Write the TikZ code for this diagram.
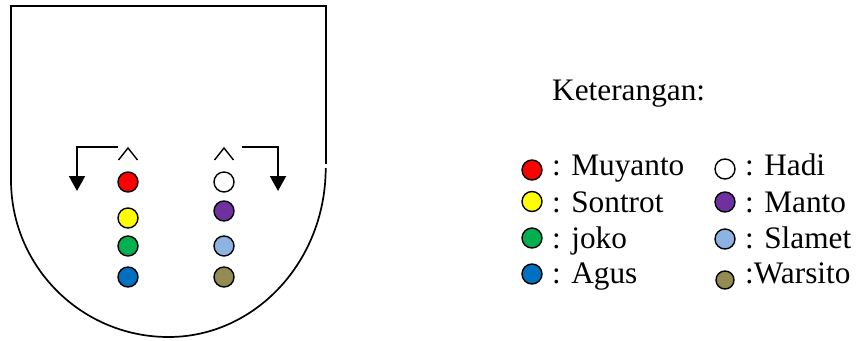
\documentclass[tikz,border=0pt]{standalone}
\usepackage{fontspec}
\setmainfont{Liberation Serif}
\usetikzlibrary{arrows.meta}
\definecolor{cRed}{HTML}{FF0000}
\definecolor{cYellow}{HTML}{FFFF00}
\definecolor{cGreen}{HTML}{00B050}
\definecolor{cBlue}{HTML}{0070C0}
\definecolor{cPurple}{HTML}{7030A0}
\definecolor{cLight}{HTML}{8DB3E2}
\definecolor{cOlive}{HTML}{948A54}
\begin{document}
\begin{tikzpicture}[x=1pt,y=-1pt,
  dot/.style={circle,draw=black,line width=1.4pt,minimum size=20pt,inner sep=0pt},
  lbl/.style={anchor=base west,inner sep=0pt,font=\fontsize{31.3}{37}\selectfont},
  outline/.style={line width=1.7pt},
  turn/.style={line width=2pt,-{Triangle[length=15pt,width=16pt]}},
  caret/.style={line width=1.4pt}]
\useasboundingbox (0,0) rectangle (858,340);
% court outline
\draw[outline] (11,180) -- (11,6) -- (326,6) -- (326,164);
\draw[outline] (11,180) .. controls (11,266.7) and (81.5,337) .. (168.5,337)
  .. controls (255.3,337) and (325.7,261.3) .. (325.7,168);
% players on the field
\node[dot,fill=cRed]    (p1) at (128,182) {};
\node[dot,fill=cYellow] (p2) at (128,218) {};
\node[dot,fill=cGreen]  (p3) at (128,246) {};
\node[dot,fill=cBlue]   (p4) at (128,277) {};
\node[dot,fill=white]   (q1) at (224,182) {};
\node[dot,fill=cPurple] (q2) at (224,211) {};
\node[dot,fill=cLight]  (q3) at (224,246) {};
\node[dot,fill=cOlive]  (q4) at (224,277) {};
% carets
\draw[caret] (118.5,160) -- (128,148) -- (137.5,160);
\draw[caret] (214.5,160) -- (224,148) -- (233.5,160);
% turning arrows
\coordinate (la) at (118,147.3);
\coordinate (lb) at (77,147.3);
\coordinate (lc) at (77,191);
\coordinate (ra) at (242,147.3);
\coordinate (rb) at (278,147.3);
\coordinate (rc) at (278,191);
\draw[turn] (la) -- (lb) -- (lc);
\draw[turn] (ra) -- (rb) -- (rc);
% legend
\node[lbl] (title) at (552,100) {Keterangan:};
\node[dot,fill=cRed]    (l1) at (532,170) {};
\node[dot,fill=cYellow] (l2) at (532,201.5) {};
\node[dot,fill=cGreen]  (l3) at (532,238) {};
\node[dot,fill=cBlue]   (l4) at (532,274) {};
\node[dot,fill=white]   (r1) at (725,169) {};
\node[dot,fill=cPurple] (r2) at (725,202) {};
\node[dot,fill=cLight]  (r3) at (725,239) {};
\node[dot,fill=cOlive,minimum size=18pt] (r4) at (725,280) {};
\node[lbl] (t1) at (552,175) {: Muyanto};
\node[lbl] (t2) at (552,212) {: Sontrot};
\node[lbl] (t3) at (552,248) {: joko};
\node[lbl] (t4) at (552,283) {: Agus};
\node[lbl] (u1) at (745,175) {: Hadi};
\node[lbl] (u2) at (745,212) {: Manto};
\node[lbl] (u3) at (745,248) {: Slamet};
\node[lbl] (u4) at (745,283) {:Warsito};
\end{tikzpicture}
\end{document}
